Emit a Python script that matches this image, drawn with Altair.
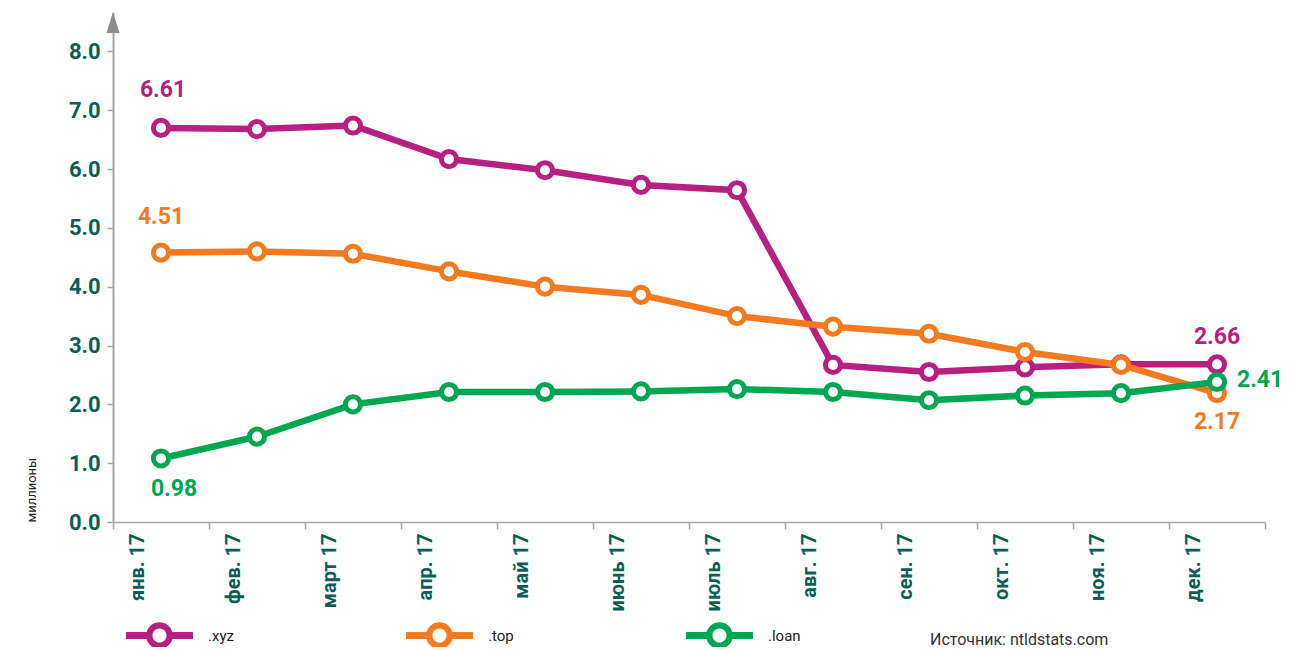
import altair as alt
import pandas as pd

months = ["янв. 17", "фев. 17", "март 17", "апр. 17", "май 17", "июнь 17",
          "июль 17", "авг. 17", "сен. 17", "окт. 17", "ноя. 17", "дек. 17"]
series_names = [".xyz", ".top", ".loan"]
xyz = [6.70, 6.68, 6.74, 6.17, 5.98, 5.73, 5.64, 2.67, 2.55, 2.63, 2.68, 2.68]
top = [4.58, 4.60, 4.56, 4.26, 4.00, 3.86, 3.50, 3.32, 3.20, 2.89, 2.67, 2.19]
loan = [1.08, 1.45, 2.00, 2.21, 2.21, 2.22, 2.26, 2.21, 2.07, 2.15, 2.19, 2.38]
colors = ["#B71F80", "#F47A20", "#00A651"]
y_ticks = [0, 1, 2, 3, 4, 5, 6, 7, 8]
y_top = 8.67
arrow_at = [8.49]

# value labels: (month, series, text)
label_months = ["янв. 17", "янв. 17", "янв. 17", "дек. 17", "дек. 17", "дек. 17"]
label_series = [".xyz", ".top", ".loan", ".xyz", ".top", ".loan"]
label_texts = ["6.61", "4.51", "0.98", "2.66", "2.17", "2.41"]

source_text = ["Источник: ntldstats.com"]

rows = []
for name, vals in zip(series_names, [xyz, top, loan]):
    for m, v in zip(months, vals):
        rows.append({"month": m, "series": name, "value": v})
df = pd.DataFrame(rows)

lookup = {(r["month"], r["series"]): r["value"] for r in rows}
lab_df = pd.DataFrame({
    "month": label_months,
    "series": label_series,
    "text": label_texts,
    "value": [lookup[(m, s)] for m, s in zip(label_months, label_series)],
})

TEAL = "#0B5E55"
GRAY = "#A6A6A6"
FONT = "Roboto"

color_scale = alt.Scale(domain=series_names, range=colors)
# legend glyph: two bars plus a ring (filled shape with a hole)
legend_path = ("M-1,-0.105H-0.385V0.105H-1Z"
               "M0.385,-0.105H1V0.105H0.385Z"
               "M0.4,0A0.4,0.4,0,1,1,-0.4,0A0.4,0.4,0,1,1,0.4,0Z"
               "M0.21,0A0.21,0.21,0,1,0,-0.21,0A0.21,0.21,0,1,0,0.21,0Z")

legend = alt.Legend(title=None, orient="none", legendX=13, legendY=590,
                    direction="horizontal", columns=3, gridAlign="all",
                    columnPadding=165, symbolType=legend_path,
                    symbolSize=4489, symbolStrokeWidth=0,
                    labelFont=FONT, labelFontSize=15,
                    labelColor="#222222", labelOffset=15, padding=0)

x_enc = alt.X("month:N", sort=months,
              scale=alt.Scale(type="band", paddingInner=0, paddingOuter=0),
              axis=alt.Axis(title=None, labelAngle=-90, labelFont=FONT, labelFontSize=20,
                            labelFontWeight="bold", labelColor=TEAL, labelPadding=4,
                            labelOffset=-24, tickBand="extent", tickColor=GRAY, tickSize=7,
                            domainColor=GRAY, domainWidth=1.5, tickWidth=1.5, grid=False))
y_enc = alt.Y("value:Q", scale=alt.Scale(domain=[0, y_top], nice=False, zero=True),
              axis=alt.Axis(title="миллионы", titleFont=FONT, titleFontSize=13,
                            titleFontWeight="normal", titleColor="#222222",
                            titleAnchor="start", titlePadding=30,
                            values=y_ticks, format=".1f", labelFont=FONT, labelFontSize=22,
                            labelFontWeight="bold", labelColor=TEAL, labelPadding=7,
                            tickColor=GRAY, tickSize=6, tickWidth=1.5,
                            domainColor=GRAY, domainWidth=2, grid=False))

base = alt.Chart(df)
lines = base.mark_line(strokeWidth=6.5).encode(
    x=x_enc, y=y_enc,
    color=alt.Color("series:N", scale=color_scale, legend=legend),
)
points = base.mark_point(filled=False, fill="white", fillOpacity=1, size=230,
                         strokeWidth=5, opacity=1).encode(
    x=alt.X("month:N", sort=months), y="value:Q",
    color=alt.Color("series:N", scale=color_scale, legend=legend),
)

def value_label(idx, dx, dy, align="center"):
    return alt.Chart(lab_df.iloc[[idx]]).mark_text(
        font=FONT, fontSize=23, fontWeight="bold", dx=dx, dy=dy, align=align,
        baseline="middle").encode(
        x=alt.X("month:N", sort=months), y="value:Q", text="text:N",
        color=alt.Color("series:N", scale=color_scale, legend=None))

labels = [
    value_label(0, 2, -38),
    value_label(1, 0, -36),
    value_label(2, 13, 31),
    value_label(3, 0, -27),
    value_label(4, 0, 29),
    value_label(5, 20, -2, "left"),
]

arrow = alt.Chart(pd.DataFrame({"v": arrow_at})).mark_point(
    shape="M0,-1L0.62,1L-0.62,1Z", filled=True, color="#8C8C8C", size=441, opacity=1
).encode(x=alt.value(0), y="v:Q")

source = alt.Chart(pd.DataFrame({"t": source_text})).mark_text(
    font=FONT, fontSize=16, color="#333333", align="left", baseline="middle"
).encode(x=alt.value(817), y=alt.value(628), text="t:N")

chart = alt.layer(lines, points, *labels, arrow, source).properties(
    width=1152, height=510,
    autosize=alt.AutoSizeParams(type="none"),
    padding={"left": 105, "top": 4, "right": 21, "bottom": 125},
).configure_view(stroke=None)

chart.save("out.html", embed_options={"renderer": "svg", "actions": False})
